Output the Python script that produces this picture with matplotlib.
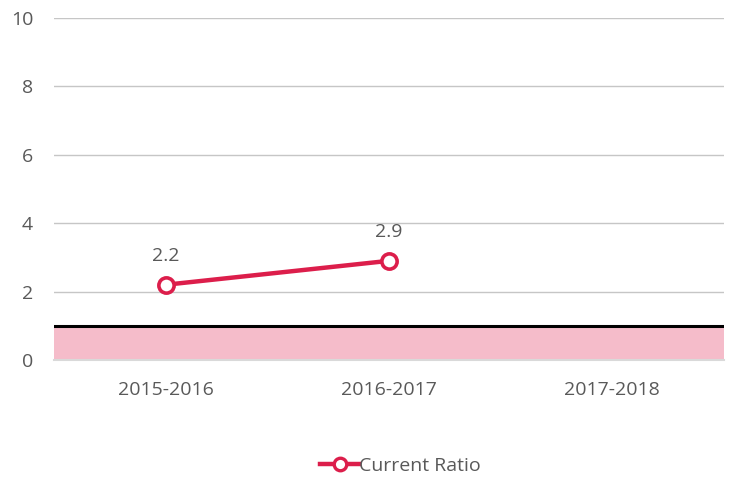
import numpy as np
import matplotlib.pyplot as plt
from matplotlib.lines import Line2D

plt.rcParams["font.family"] = ["Open Sans", "DejaVu Sans"]

categories = ["2015-2016", "2016-2017", "2017-2018"]
current_ratio = [2.2, 2.9, None]
benchmark = 1.0
y_ticks = [0, 2, 4, 6, 8, 10]

line_color = "#DC1E4B"
band_color = "#F5BCCA"
text_color = "#595959"
fs = 14

fig = plt.figure(figsize=(7.32, 4.79), dpi=100)
ax = fig.add_axes([54 / 732, 1 - 360 / 479, 670 / 732, 342 / 479])

x = np.arange(len(categories))
ax.set_xlim(-0.5, len(categories) - 0.5)
ax.set_ylim(0, 10)

# benchmark band + line
ax.axhspan(0, benchmark, color=band_color, zorder=1, lw=0)
ax.axhline(benchmark, color="black", lw=2.2, zorder=3)

for t in y_ticks[1:]:
    ax.axhline(t, color="#C6C6C6", lw=1, zorder=0)

xs = [xi for xi, v in zip(x, current_ratio) if v is not None]
ys = [v for v in current_ratio if v is not None]
ax.plot(xs, ys, color=line_color, lw=3.2, marker="o", markersize=11,
        markerfacecolor="white", markeredgewidth=2.6, zorder=5)
for xi, v in zip(xs, ys):
    ax.annotate(f"{v:.1f}", (xi, v), xytext=(0, 14), textcoords="offset points",
                ha="center", va="bottom", fontsize=fs, color=text_color)

ax.set_yticks(y_ticks)
ax.set_xticks(x)
ax.set_xticklabels(categories)
ax.tick_params(axis="both", length=0, labelsize=fs, labelcolor=text_color)
ax.tick_params(axis="x", pad=15)
ax.tick_params(axis="y", pad=15)
for s in ["top", "right", "left"]:
    ax.spines[s].set_visible(False)
ax.spines["bottom"].set_color("#D9D9D9")
ax.spines["bottom"].set_linewidth(1.5)

handle = Line2D([], [], color=line_color, lw=3.2, marker="o", markersize=9,
                markerfacecolor="white", markeredgewidth=2.4)
fig.legend([handle], ["Current Ratio"], loc="center", bbox_to_anchor=(0.547, 1 - 466 / 479),
           frameon=False, fontsize=fs, labelcolor=text_color, handlelength=2.0,
           handletextpad=0.0)

fig.savefig("out.png", dpi=100)
